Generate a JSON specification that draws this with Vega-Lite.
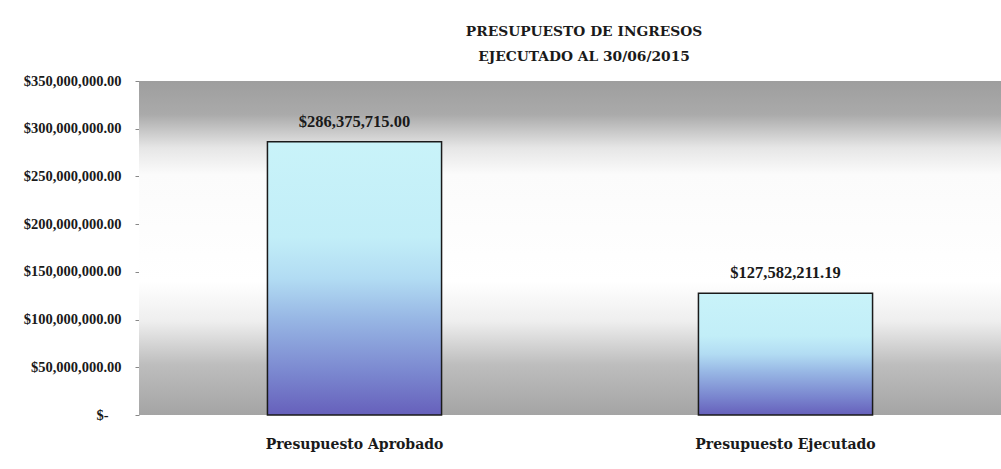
{
  "$schema": "https://vega.github.io/schema/vega-lite/v6.json",
  "width": 862,
  "height": 334,
  "autosize": {"type": "none"},
  "padding": {"left": 139, "top": 81, "right": 0, "bottom": 54},
  "background": "white",
  "title": {
    "text": ["PRESUPUESTO DE INGRESOS", "EJECUTADO AL 30/06/2015"],
    "font": "DejaVu Serif",
    "fontSize": 13.8,
    "fontWeight": "bold",
    "color": "#1a1a1a",
    "lineHeight": 25,
    "anchor": "middle",
    "dx": 14,
    "offset": 9
  },
  "data": {
    "values": [
      {"categoria": "Presupuesto Aprobado", "monto": 286375715.00},
      {"categoria": "Presupuesto Ejecutado", "monto": 127582211.19}
    ]
  },
  "layer": [
    {
      "mark": {
        "type": "rect",
        "fill": {
          "gradient": "linear",
          "x1": 0, "y1": 0, "x2": 0, "y2": 1,
          "stops": [
            {"offset": 0, "color": "#9e9e9e"},
            {"offset": 0.1, "color": "#aaaaaa"},
            {"offset": 0.2, "color": "#e6e6e6"},
            {"offset": 0.28, "color": "#fbfbfb"},
            {"offset": 0.6, "color": "#ffffff"},
            {"offset": 0.72, "color": "#eeeeee"},
            {"offset": 0.85, "color": "#bdbdbd"},
            {"offset": 1, "color": "#a4a4a4"}
          ]
        }
      },
      "encoding": {
        "y": {"datum": 350000000, "type": "quantitative"},
        "y2": {"datum": 0}
      }
    },
    {
      "mark": {
        "type": "bar",
        "width": {"band": 0.404},
        "stroke": "#1a1a1a",
        "strokeWidth": 1.5,
        "fill": {
          "gradient": "linear",
          "x1": 0, "y1": 0, "x2": 0, "y2": 1,
          "stops": [
            {"offset": 0, "color": "#c9f3f9"},
            {"offset": 0.35, "color": "#c2eef8"},
            {"offset": 0.5, "color": "#b2dcf3"},
            {"offset": 0.65, "color": "#97b6e4"},
            {"offset": 0.85, "color": "#7a86cf"},
            {"offset": 1, "color": "#6660bb"}
          ]
        }
      },
      "encoding": {
        "x": {
          "field": "categoria",
          "type": "nominal",
          "sort": null,
          "scale": {"paddingInner": 0, "paddingOuter": 0},
          "axis": {
            "title": null,
            "labelAngle": 0,
            "labelFont": "DejaVu Serif",
            "labelFontSize": 14,
            "labelFontWeight": "bold",
            "labelColor": "#1a1a1a",
            "labelPadding": 22,
            "labelLimit": 400,
            "ticks": false,
            "domain": false
          }
        },
        "y": {
          "field": "monto",
          "type": "quantitative",
          "scale": {"domain": [0, 350000000], "nice": false},
          "axis": {
            "title": null,
            "values": [0, 50000000, 100000000, 150000000, 200000000, 250000000, 300000000, 350000000],
            "format": "$,.2f",
            "labelExpr": "datum.value == 0 ? '$-' : datum.label",
            "labelFont": "Liberation Serif",
            "labelFontSize": 14.5,
            "labelFontWeight": "bold",
            "labelColor": "#1a1a1a",
            "labelPadding": {"condition": {"test": "datum.value == 0", "value": 27}, "value": 14},
            "tickSize": 4,
            "tickColor": "#888888",
            "domain": false,
            "grid": false
          }
        }
      }
    },
    {
      "mark": {
        "type": "text",
        "font": "Liberation Serif",
        "fontSize": 16.5,
        "fontWeight": "bold",
        "color": "#1a1a1a",
        "baseline": "bottom",
        "dy": -12
      },
      "encoding": {
        "x": {"field": "categoria", "type": "nominal", "sort": null},
        "y": {"field": "monto", "type": "quantitative"},
        "text": {"field": "monto", "type": "quantitative", "format": "$,.2f"}
      }
    }
  ],
  "config": {"view": {"stroke": null}}
}
